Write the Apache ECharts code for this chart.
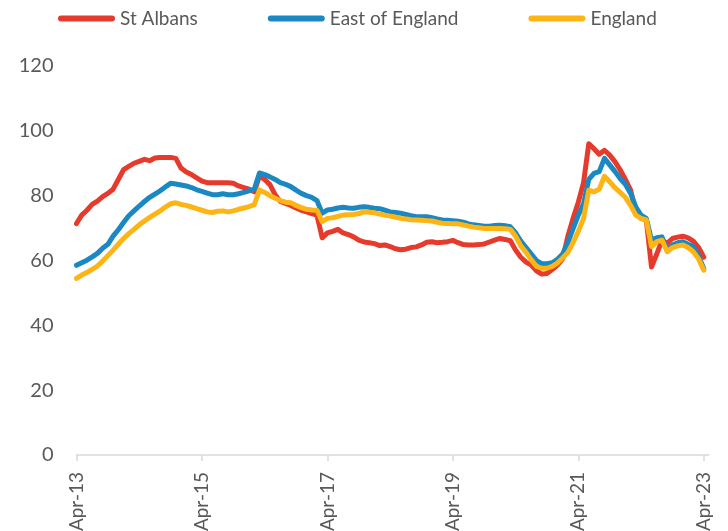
<!DOCTYPE html>
<html>
<head>
<meta charset="utf-8">
<script src="https://cdn.jsdelivr.net/npm/echarts@6/dist/echarts.min.js"></script>
<style>html,body{margin:0;padding:0;background:#fff}#c{width:728px;height:531px}</style>
</head>
<body>
<div id="c"></div>
<script>
// Monthly, Apr-13 .. Apr-23 (plus one trailing empty month on the axis)
var monthNames = ['Jan','Feb','Mar','Apr','May','Jun','Jul','Aug','Sep','Oct','Nov','Dec'];
var categories = [];
for (var k = 0; k < 122; k++) {
  var m = (3 + k) % 12, y = 13 + Math.floor((3 + k) / 12);
  categories.push(monthNames[m] + '-' + y);
}

var stAlbans = [
  71.4, 74, 75.5, 77.3, 78.3, 79.7, 80.7, 82, 85, 88, 89, 90, 90.6, 91.2, 90.8, 91.6, 91.8, 91.8, 91.8, 91.5, 88.5, 87.3, 86.5, 85.5, 84.5,
  84, 84, 84, 84, 84, 83.8, 83, 82.5, 82, 81.2, 86, 85, 83.4, 80.3, 78.2, 77.6, 77, 76.2, 75.5, 75, 74.5, 74, 67,
  68.5, 69, 69.6, 68.5, 68, 67.3, 66.3, 65.7, 65.5, 65.2, 64.6, 64.8, 64.3, 63.6, 63.3, 63.5, 64, 64.2, 64.8, 65.6, 65.8, 65.5, 65.6, 65.8, 66.2,
  65.5, 64.9, 64.8, 64.8, 64.9, 65.1, 65.7, 66.3, 66.8, 66.5, 66.1, 63.2, 61, 59.5, 58.6, 56.8, 55.8, 56, 57.2, 58.6, 60.5, 67.5, 73, 78,
  84, 96, 94.5, 92.8, 94, 92.5, 90.5, 88, 85, 81.7, 75, 73, 72.5, 58, 62, 66.3, 65.3, 66.8, 67.2, 67.5, 67, 66, 64, 61
];
var eastOfEngland = [
  58.5, 59.3, 60.1, 61.1, 62.2, 63.8, 65, 67.5, 69.5, 71.7, 73.8, 75.3, 76.8, 78.2, 79.5, 80.5, 81.5, 82.7, 83.8, 83.6, 83.3, 83, 82.5, 81.8, 81.3,
  80.8, 80.3, 80.3, 80.6, 80.3, 80.3, 80.6, 81, 81.5, 82, 87, 86.5, 85.8, 85, 84, 83.5, 82.8, 81.7, 80.7, 80, 79.5, 78.5, 74.6,
  75.6, 75.8, 76.2, 76.4, 76.2, 76.1, 76.4, 76.6, 76.4, 76.1, 76, 75.5, 75, 74.8, 74.6, 74.2, 73.8, 73.5, 73.5, 73.5, 73.2, 72.8, 72.5, 72.4, 72.3,
  72.1, 71.8, 71.3, 71, 70.8, 70.6, 70.6, 70.8, 70.9, 70.7, 70.4, 68.5, 66, 64, 62, 60, 59, 59, 59.3, 60.4, 62, 65.5, 69.8, 74,
  77.5, 85, 86.9, 87.4, 91.5, 89.5, 87.5, 85.3, 83.5, 80.7, 76.5, 74, 73, 66.3, 67, 67.3, 63.2, 64.8, 65.5, 65.8, 65, 64.3, 61.5, 57.5
];
var england = [
  54.5, 55.5, 56.3, 57.3, 58.3, 59.8, 61.5, 63.2, 65, 66.8, 68.3, 69.6, 71, 72.2, 73.3, 74.3, 75.3, 76.5, 77.5, 77.8, 77.3, 77, 76.5, 76, 75.5,
  75, 74.8, 75.2, 75.3, 75, 75.3, 75.8, 76.2, 76.6, 77.2, 81.7, 81, 80, 79.2, 78.5, 78, 77.8, 77, 76.3, 75.8, 75.6, 75.5, 72,
  73, 73.2, 73.6, 74, 74.1, 74.2, 74.5, 75, 74.9, 74.7, 74.3, 74, 73.7, 73.4, 73, 72.8, 72.6, 72.5, 72.4, 72.3, 72.2, 71.8, 71.5, 71.4, 71.3,
  71.3, 71, 70.6, 70.3, 70.1, 69.9, 69.9, 69.9, 69.9, 69.8, 69.6, 67.5, 64.5, 62.5, 60.2, 58.2, 57.6, 57.6, 58.2, 59.2, 60.8, 62.5, 65.5, 69,
  73, 81.7, 81.2, 82, 86, 84.3, 82.5, 81, 79.5, 77, 74, 73, 72.5, 64.3, 65.8, 66.3, 62.7, 64, 64.5, 64.8, 64, 62.7, 60.5, 57
];
var yTicks = [0, 20, 40, 60, 80, 100, 120];

var seriesNames = ['St Albans', 'East of England', 'England'];
var colors = ['#E63A2C', '#1A88C2', '#FDB515'];
var FONT = 'Lato, "Open Sans", sans-serif';
var TXT = '#595959';

var chart = echarts.init(document.getElementById('c'), null, {renderer: 'canvas'});
chart.setOption({
  animation: false,
  color: colors,
  legend: {
    left: 53, top: 4,
    itemWidth: 57, itemHeight: 6, itemGap: 70,
    icon: 'path://M3,0 L54,0 A3,3 0 0 1 54,6 L3,6 A3,3 0 0 1 3,0 Z',
    textStyle: {fontFamily: FONT, fontSize: 19, color: TXT},
    data: seriesNames
  },
  grid: {left: 76.5, right: 19, top: 66, bottom: 76, containLabel: false, outerBoundsMode: 'none'},
  xAxis: {
    type: 'category',
    data: categories,
    boundaryGap: false,
    axisLine: {lineStyle: {color: '#D9D9D9', width: 1.5}},
    axisTick: {interval: 23, length: 6, lineStyle: {color: '#D9D9D9', width: 1.5}},
    axisLabel: {interval: 23, rotate: 90, margin: 17, fontFamily: FONT, fontSize: 19, color: TXT},
    splitLine: {show: false}
  },
  yAxis: {
    type: 'value',
    min: yTicks[0], max: yTicks[yTicks.length - 1], interval: 20,
    axisLine: {show: false},
    axisTick: {show: false},
    splitLine: {show: false},
    axisLabel: {margin: 23, fontFamily: FONT, fontSize: 20, color: TXT}
  },
  series: [
    {name: seriesNames[0], data: stAlbans},
    {name: seriesNames[1], data: eastOfEngland},
    {name: seriesNames[2], data: england}
  ].map(function (s, i) {
    return {
      name: s.name, type: 'line', data: s.data,
      showSymbol: false, symbol: 'none',
      lineStyle: {width: 5, color: colors[i], cap: 'round', join: 'round'},
      itemStyle: {color: colors[i]}
    };
  })
});
</script>
</body>
</html>
